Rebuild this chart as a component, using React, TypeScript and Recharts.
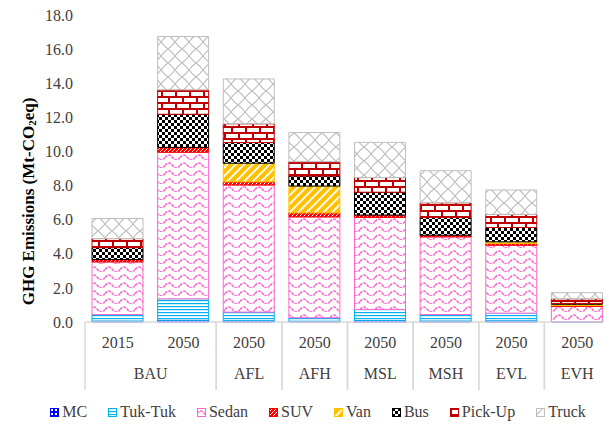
import React from "react";
import { BarChart, Bar, XAxis, YAxis, Legend } from "recharts";

const years = ["2015", "2050", "2050", "2050", "2050", "2050", "2050", "2050"];
const groups = ["BAU", "BAU", "AFL", "AFH", "MSL", "MSH", "EVL", "EVH"];

const mc = [0.06, 0.1, 0.08, 0.05, 0.09, 0.06, 0.07, 0.01];
const tukTuk = [0.38, 1.26, 0.5, 0.2, 0.65, 0.38, 0.45, 0.02];
const sedan = [3.08, 8.59, 7.45, 5.91, 5.39, 4.55, 3.98, 0.88];
const suv = [0.14, 0.29, 0.19, 0.24, 0.14, 0.1, 0.1, 0.05];
const van = [0.0, 0.0, 1.09, 1.57, 0.0, 0.0, 0.1, 0.08];
const bus = [0.7, 1.94, 1.21, 0.59, 1.34, 1.04, 0.84, 0.05];
const pickUp = [0.53, 1.43, 1.1, 0.84, 0.86, 0.86, 0.77, 0.27];
const truck = [1.18, 3.13, 2.63, 1.71, 2.06, 1.88, 1.43, 0.36];

const yTicks = [0, 2, 4, 6, 8, 10, 12, 14, 16, 18];

const series = [
  { key: "MC", values: mc, pattern: "pMC", stroke: "#0000ff" },
  { key: "Tuk-Tuk", values: tukTuk, pattern: "pTuk", stroke: "#00b0f0" },
  { key: "Sedan", values: sedan, pattern: "pSedan", stroke: "#ff66cc" },
  { key: "SUV", values: suv, pattern: "pSUV", stroke: "#ff0000" },
  { key: "Van", values: van, pattern: "pVan", stroke: "#ffc000" },
  { key: "Bus", values: bus, pattern: "pBus", stroke: "#000000" },
  { key: "Pick-Up", values: pickUp, pattern: "pPick", stroke: "#c00000" },
  { key: "Truck", values: truck, pattern: "pTruck", stroke: "#bfbfbf" },
];

const data = years.map((y, i) => {
  const row: any = { cat: groups[i] + " " + y + " " + i };
  series.forEach((s) => (row[s.key] = s.values[i]));
  return row;
});

const W = 612;
const H = 425;
const M = { top: 15, right: 2, left: 15, bottom: 13 };
const YW = 70;
const N = years.length;
const STEP = (W - M.left - M.right - YW) / N;
const FONT = "'Liberation Serif', 'Times New Roman', serif";
const TXT = "#404040";
const AXC = "#d9d9d9";

const Patterns = () => (
  <svg width={0} height={0} style={{ position: "absolute" }}>
    <defs>
      <pattern id="pMC" width="4" height="4" patternUnits="userSpaceOnUse">
        <rect width="4" height="4" fill="#0000ff" />
        <rect x="1" y="1" width="2" height="2" fill="#ffffff" />
      </pattern>
      <pattern id="pTuk" width="4" height="3" patternUnits="userSpaceOnUse">
        <rect width="4" height="3" fill="#ffffff" />
        <rect width="4" height="1.2" fill="#00b0f0" />
      </pattern>
      <pattern id="pSedan" width="15" height="8" patternUnits="userSpaceOnUse">
        <rect width="15" height="8" fill="#ffffff" />
        <path d="M0 5.5 Q3.75 0.5 7.5 5.5 T15 5.5" fill="none" stroke="#ff66cc" strokeWidth="1.6" strokeDasharray="3 1" />
      </pattern>
      <pattern id="pSUV" width="4" height="4" patternUnits="userSpaceOnUse">
        <rect width="4" height="4" fill="#ff0000" />
        <path d="M0 4 L4 0" stroke="#ffffff" strokeWidth="1" />
      </pattern>
      <pattern id="pVan" width="6" height="6" patternUnits="userSpaceOnUse" patternTransform="rotate(45)">
        <rect width="6" height="6" fill="#ffc000" />
        <rect width="1.8" height="6" fill="#ffffff" />
      </pattern>
      <pattern id="pBus" width="6" height="6" patternUnits="userSpaceOnUse">
        <rect width="6" height="6" fill="#ffffff" />
        <rect width="3" height="3" fill="#000000" />
        <rect x="3" y="3" width="3" height="3" fill="#000000" />
      </pattern>
      <pattern id="pPick" width="14" height="12" patternUnits="userSpaceOnUse">
        <rect width="14" height="12" fill="#ffffff" />
        <rect y="0" width="14" height="2" fill="#c00000" />
        <rect y="6" width="14" height="2" fill="#c00000" />
        <rect x="0" y="0" width="2" height="6" fill="#c00000" />
        <rect x="7" y="6" width="2" height="6" fill="#c00000" />
      </pattern>
      <pattern id="pTruck" width="14" height="14" patternUnits="userSpaceOnUse">
        <rect width="14" height="14" fill="#ffffff" />
        <path d="M0 7 Q4 4 7 0 Q10 4 14 7 Q10 10 7 14 Q4 10 0 7 Z" fill="none" stroke="#bfbfbf" strokeWidth="1.2" />
      </pattern>
    </defs>
  </svg>
);

const CatTick = (props: any) => {
  const { x, y, index } = props;
  const g = groups[index];
  const isStart = index === 0 || groups[index - 1] !== g;
  const isEnd = index === N - 1 || groups[index + 1] !== g;
  let span = 1;
  while (index + span < N && groups[index + span] === g) span++;
  return (
    <g>
      <text x={x} y={y + 20} textAnchor="middle" dominantBaseline="central" fontFamily={FONT} fontSize={16} fill={TXT}>
        {years[index]}
      </text>
      {isStart && (
        <text x={x + ((span - 1) * STEP) / 2} y={y + 51} textAnchor="middle" dominantBaseline="central" fontFamily={FONT} fontSize={16} fill={TXT}>
          {g}
        </text>
      )}
      {isStart && <line x1={x - STEP / 2} x2={x - STEP / 2} y1={y} y2={y + 68} stroke={AXC} strokeWidth={1.5} />}
      {isEnd && <line x1={x + STEP / 2} x2={x + STEP / 2} y1={y} y2={y + 68} stroke={AXC} strokeWidth={1.5} />}
    </g>
  );
};

const YLabel = (props: any) => {
  const vb = props.viewBox || { x: 15, y: 15, width: 70, height: 306 };
  const cx = vb.x + 13;
  const cy = vb.y + vb.height / 2 + 33;
  return (
    <text
      x={cx}
      y={cy}
      transform={`rotate(-90, ${cx}, ${cy})`}
      textAnchor="middle"
      dominantBaseline="central"
      fontFamily={FONT}
      fontSize={17}
      fontWeight="bold"
      fill="#000000"
    >
      GHG Emissions (Mt-CO<tspan dy={4} fontSize={11}>2</tspan>
      <tspan dy={-4}>eq)</tspan>
    </text>
  );
};

const LegendContent = () => (
  <div
    style={{
      display: "flex",
      justifyContent: "center",
      alignItems: "center",
      height: 20,
      fontFamily: FONT,
      fontSize: 16,
      color: TXT,
      gap: 21,
      paddingLeft: 11,
    }}
  >
    {series.map((s) => (
      <div key={s.key} style={{ display: "flex", alignItems: "center", gap: 3 }}>
        <svg width={9} height={9}>
          <rect x={0.5} y={0.5} width={8} height={8} fill={`url(#${s.pattern})`} stroke={s.stroke} strokeWidth={1} />
        </svg>
        <span>{s.key}</span>
      </div>
    ))}
  </div>
);

export default function App() {
  return (
    <div style={{ position: "fixed", left: 0, top: 0, width: 604, height: 425, overflow: "hidden", background: "#fff" }}>
      <Patterns />
      <BarChart width={W} height={H} data={data} margin={M} barSize={51}>
        <XAxis
          dataKey="cat"
          interval={0}
          tickLine={false}
          tickSize={0}
          tickMargin={0}
          height={70}
          axisLine={{ stroke: AXC, strokeWidth: 1.5 }}
          tick={<CatTick />}
        />
        <YAxis
          width={YW}
          domain={[0, 18]}
          ticks={yTicks}
          interval={0}
          axisLine={false}
          tickLine={false}
          tickSize={0}
          tickMargin={12}
          tickFormatter={(v: number) => v.toFixed(1)}
          tick={{ fontFamily: FONT, fontSize: 16, fill: TXT }}
          label={<YLabel />}
        />
        <Legend verticalAlign="bottom" content={<LegendContent />} wrapperStyle={{ bottom: 3 }} />
        {series.map((s) => (
          <Bar
            key={s.key}
            dataKey={s.key}
            stackId="a"
            fill={`url(#${s.pattern})`}
            stroke={s.stroke}
            strokeWidth={1}
            isAnimationActive={false}
          />
        ))}
      </BarChart>
    </div>
  );
}
